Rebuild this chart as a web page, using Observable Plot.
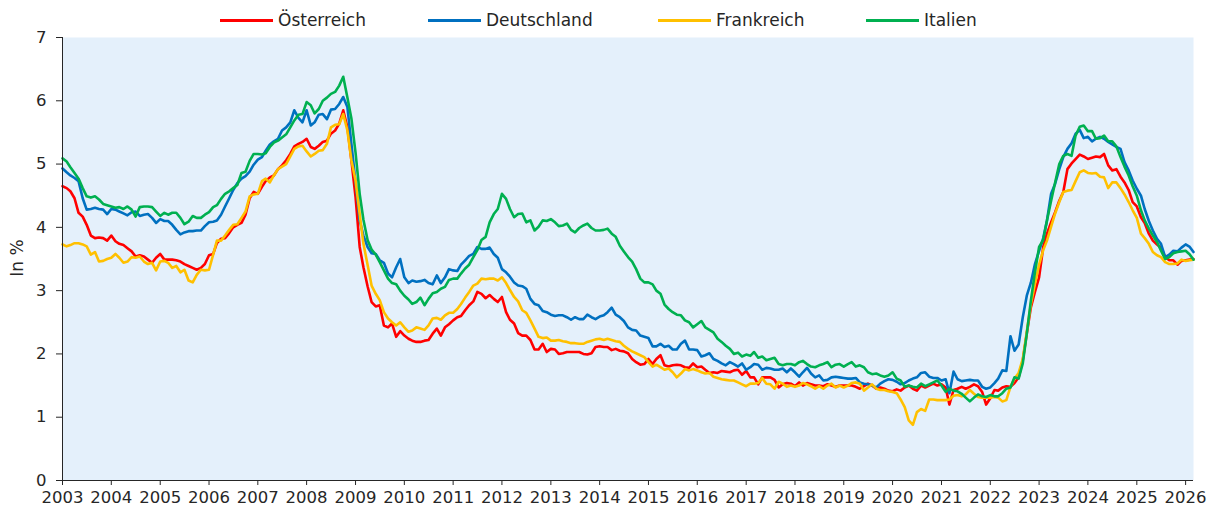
<!DOCTYPE html>
<html>
<head>
<meta charset="utf-8">
<script src="https://cdn.jsdelivr.net/npm/d3@7"></script>
<script src="https://cdn.jsdelivr.net/npm/@observablehq/plot@0.6"></script>
<style>
  html, body { margin: 0; padding: 0; background: #ffffff; }
  #wrap { position: relative; width: 1209px; height: 512px; font-family: "DejaVu Sans", sans-serif; color: #262626; }
  #legend { position: relative; height: 28px; width: 1209px; }
  .item { position: absolute; top: 9px; height: 22px; display: flex; align-items: center; font-size: 17px; white-space: nowrap; }
  .swatch { display: inline-block; width: 53px; height: 3px; margin-right: 5px; }
  #ylabel { position: absolute; left: 17px; top: 258px; transform: translate(-50%, -50%) rotate(-90deg); font-size: 17px; white-space: nowrap; }
  svg { display: block; }
</style>
</head>
<body>
<div id="wrap">
  <div id="legend"></div>
  <div id="chart"></div>
  <div id="ylabel">In %</div>
</div>
<script>
// Monthly values from Jan 2003 (index 0) to Mar 2026
const startYear = 2003;
const seriesNames = ["Österreich", "Deutschland", "Frankreich", "Italien"];
const seriesColors = ["#FF0000", "#0070C0", "#FFC000", "#00B050"];
const yTicks = [0, 1, 2, 3, 4, 5, 6, 7];
const yearTicks = d3.range(2003, 2027);

const oesterreich = [
4.65,4.62,4.57,4.46,4.23,4.17,4.04,3.87,3.83,3.84,3.83,3.79,3.87,3.78,3.74,3.72,3.67,3.62,3.54,3.56,3.54,3.49,3.44,3.52,
3.58,3.49,3.49,3.49,3.48,3.46,3.42,3.39,3.36,3.33,3.36,3.42,3.56,3.58,3.75,3.82,3.83,3.91,4.0,4.04,4.07,4.2,4.46,4.56,
4.53,4.64,4.73,4.79,4.82,4.92,4.98,5.06,5.16,5.28,5.32,5.35,5.4,5.27,5.24,5.29,5.35,5.37,5.48,5.53,5.64,5.85,5.58,5.06,
4.48,3.69,3.37,3.07,2.82,2.75,2.77,2.45,2.42,2.48,2.27,2.36,2.29,2.24,2.21,2.19,2.19,2.21,2.22,2.32,2.4,2.29,
2.42,2.47,2.53,2.58,2.6,2.69,2.77,2.83,2.98,2.95,2.88,2.93,2.87,2.82,2.9,2.66,2.54,2.48,2.33,2.29,2.29,2.22,2.07,2.07,
2.16,2.03,2.08,2.07,2.0,2.01,2.03,2.03,2.03,2.03,2.0,1.99,2.01,2.11,2.12,2.11,2.11,2.06,2.08,2.05,
2.04,2.01,1.92,1.87,1.83,1.84,1.92,1.84,1.92,1.98,1.82,1.8,1.82,1.83,1.82,1.79,1.78,1.85,1.79,1.8,1.75,1.7,1.71,1.7,
1.73,1.72,1.71,1.74,1.75,1.67,1.73,1.63,1.63,1.52,1.63,1.63,1.63,1.59,1.47,1.52,1.54,1.53,1.49,1.55,1.5,1.54,1.52,
1.5,1.5,1.49,1.52,1.5,1.48,1.5,1.5,1.5,1.5,1.48,1.45,1.49,1.53,1.5,1.45,1.47,1.45,1.42,1.41,1.44,1.42,1.47,1.5,
1.45,1.42,1.5,1.47,1.5,1.53,1.5,1.52,1.47,1.2,1.43,1.45,1.48,1.45,1.48,1.52,1.49,1.4,1.2,1.3,
1.43,1.42,1.47,1.49,1.48,1.54,1.63,1.9,2.32,2.74,2.98,3.21,3.69,3.9,4.08,4.24,4.42,4.56,4.92,5.01,5.08,5.15,5.12,5.08,
5.1,5.12,5.11,5.16,4.98,4.9,4.92,4.8,4.71,4.59,4.4,4.33,4.16,4.07,3.9,3.79,3.73,3.68,3.53,3.48,3.48,3.41,3.47,3.48,3.49,3.5
];

const deutschland = [
4.93,4.87,4.82,4.78,4.73,4.46,4.28,4.29,4.31,4.29,4.28,4.21,4.29,4.28,4.25,4.22,4.19,4.24,4.25,4.18,4.2,4.21,4.15,4.07,
4.13,4.1,4.1,4.04,3.96,3.89,3.92,3.94,3.94,3.95,3.95,4.02,4.08,4.09,4.11,4.2,4.33,4.46,4.59,4.7,4.77,4.81,4.88,4.99,
5.07,5.11,5.21,5.31,5.36,5.4,5.53,5.58,5.66,5.85,5.73,5.66,5.85,5.61,5.66,5.78,5.79,5.71,5.86,5.87,5.95,6.06,5.9,5.32,
4.71,4.11,3.87,3.69,3.59,3.58,3.48,3.44,3.27,3.21,3.37,3.5,3.21,3.12,3.16,3.14,3.15,3.17,3.12,3.1,3.24,3.12,
3.21,3.34,3.32,3.31,3.41,3.48,3.55,3.58,3.69,3.66,3.66,3.68,3.58,3.52,3.34,3.29,3.22,3.13,3.08,3.07,3.03,2.87,2.79,2.77,
2.68,2.66,2.62,2.6,2.61,2.61,2.58,2.54,2.58,2.55,2.55,2.62,2.58,2.55,2.59,2.61,2.66,2.73,2.62,2.58,
2.52,2.42,2.38,2.37,2.29,2.27,2.25,2.12,2.12,2.16,2.11,2.13,2.07,2.07,2.16,2.21,2.07,2.07,2.06,1.96,1.98,2.01,1.92,1.89,
1.85,1.82,1.87,1.84,1.8,1.85,1.75,1.79,1.84,1.83,1.75,1.78,1.77,1.75,1.75,1.77,1.71,1.77,1.71,1.64,1.71,1.78,1.69,
1.63,1.66,1.58,1.59,1.63,1.64,1.63,1.62,1.61,1.61,1.62,1.55,1.53,1.52,1.5,1.47,1.53,1.57,1.6,1.59,1.56,1.52,1.54,1.58,
1.61,1.63,1.7,1.71,1.64,1.62,1.62,1.58,1.6,1.38,1.72,1.6,1.57,1.58,1.59,1.58,1.58,1.48,1.45,1.47,
1.54,1.61,1.74,1.73,2.28,2.05,2.15,2.58,2.92,3.13,3.42,3.63,3.83,4.11,4.53,4.69,4.92,5.11,5.24,5.33,5.48,5.54,5.41,5.43,
5.36,5.4,5.43,5.4,5.35,5.31,5.27,5.24,5.03,4.9,4.74,4.61,4.5,4.29,4.1,3.95,3.82,3.74,3.53,3.57,3.63,3.62,3.68,3.73,3.69,3.61
];

const frankreich = [
3.73,3.7,3.72,3.75,3.75,3.73,3.7,3.57,3.61,3.46,3.47,3.5,3.52,3.58,3.52,3.44,3.46,3.53,3.52,3.54,3.46,3.42,3.44,3.32,
3.46,3.47,3.44,3.36,3.39,3.29,3.33,3.16,3.13,3.25,3.33,3.32,3.33,3.57,3.79,3.79,3.87,3.96,4.04,4.05,4.15,4.25,4.49,4.52,
4.53,4.73,4.77,4.71,4.82,4.92,4.96,5.0,5.12,5.24,5.28,5.29,5.2,5.12,5.16,5.21,5.22,5.32,5.58,5.62,5.63,5.79,5.53,5.06,
4.74,4.21,3.74,3.41,3.08,2.95,2.85,2.66,2.56,2.5,2.45,2.5,2.42,2.35,2.37,2.42,2.4,2.38,2.45,2.56,2.57,2.54,
2.61,2.65,2.65,2.71,2.79,2.89,2.98,3.08,3.11,3.19,3.18,3.19,3.19,3.16,3.21,3.12,3.01,2.9,2.83,2.69,2.65,2.53,2.4,2.27,
2.25,2.26,2.21,2.21,2.22,2.2,2.19,2.17,2.17,2.16,2.16,2.19,2.21,2.23,2.24,2.22,2.24,2.22,2.2,2.19,
2.13,2.08,2.04,2.01,1.98,1.95,1.87,1.8,1.83,1.79,1.75,1.77,1.71,1.63,1.69,1.76,1.74,1.76,1.74,1.71,1.69,1.7,1.64,1.62,
1.6,1.59,1.58,1.58,1.55,1.52,1.49,1.53,1.53,1.54,1.62,1.53,1.52,1.45,1.56,1.53,1.48,1.5,1.48,1.5,1.54,1.52,1.49,
1.45,1.49,1.45,1.5,1.53,1.47,1.5,1.47,1.5,1.54,1.55,1.53,1.42,1.47,1.52,1.45,1.43,1.43,1.41,1.4,1.38,1.28,1.16,0.95,
0.88,1.08,1.13,1.1,1.28,1.28,1.27,1.27,1.27,1.28,1.34,1.35,1.33,1.36,1.43,1.37,1.32,1.31,1.31,1.31,
1.32,1.31,1.25,1.27,1.48,1.61,1.7,1.92,2.35,2.79,3.11,3.41,3.64,3.79,4.01,4.22,4.4,4.56,4.58,4.59,4.73,4.87,4.9,4.86,
4.85,4.86,4.8,4.79,4.62,4.71,4.71,4.62,4.52,4.4,4.27,4.15,3.9,3.83,3.74,3.61,3.56,3.53,3.45,3.42,3.42,3.43,3.49,3.47,3.48,3.49
];

const italien = [
5.09,5.04,4.95,4.86,4.77,4.62,4.49,4.47,4.49,4.44,4.37,4.35,4.33,4.31,4.32,4.29,4.33,4.28,4.17,4.32,4.33,4.33,4.32,4.25,
4.18,4.23,4.2,4.23,4.23,4.15,4.05,4.09,4.18,4.15,4.15,4.2,4.24,4.32,4.35,4.45,4.53,4.57,4.62,4.67,4.86,4.88,5.05,5.16,
5.16,5.15,5.17,5.27,5.34,5.37,5.42,5.47,5.58,5.69,5.78,5.79,5.98,5.93,5.8,5.87,6.0,6.05,6.11,6.14,6.24,6.38,6.05,5.72,
5.18,4.53,4.12,3.8,3.65,3.57,3.45,3.32,3.19,3.12,3.1,3.0,2.92,2.86,2.79,2.82,2.89,2.77,2.87,2.96,2.98,3.03,
3.06,3.17,3.19,3.19,3.27,3.35,3.41,3.53,3.64,3.8,3.85,4.08,4.21,4.29,4.53,4.45,4.29,4.16,4.21,4.22,4.08,4.11,3.95,4.01,
4.11,4.1,4.13,4.08,4.02,4.03,4.06,3.96,3.92,3.99,4.03,4.06,3.99,3.95,3.95,3.96,3.98,3.9,3.85,3.71,
3.62,3.53,3.46,3.34,3.19,3.13,3.13,3.1,3.0,2.95,2.78,2.71,2.66,2.62,2.61,2.53,2.5,2.42,2.47,2.52,2.42,2.38,2.34,2.24,
2.19,2.13,2.08,2.0,2.02,1.96,1.99,1.97,2.03,1.94,1.96,1.9,1.92,1.94,1.84,1.82,1.84,1.84,1.82,1.87,1.89,1.84,1.8,
1.79,1.82,1.84,1.87,1.79,1.83,1.84,1.8,1.84,1.87,1.8,1.82,1.79,1.71,1.68,1.69,1.66,1.64,1.66,1.71,1.61,1.58,1.48,1.5,
1.48,1.47,1.53,1.49,1.52,1.55,1.58,1.5,1.4,1.45,1.42,1.41,1.37,1.31,1.25,1.31,1.36,1.33,1.32,1.35,
1.33,1.33,1.38,1.45,1.47,1.63,1.61,1.85,2.32,2.85,3.29,3.69,3.8,4.11,4.42,4.71,5.0,5.13,5.16,5.13,5.45,5.59,5.61,5.52,
5.52,5.4,5.41,5.45,5.36,5.36,5.28,5.11,4.96,4.82,4.65,4.5,4.27,4.11,3.98,3.87,3.77,3.63,3.5,3.53,3.59,3.61,3.62,3.63,3.57,3.49
];

const seriesValues = [oesterreich, deutschland, frankreich, italien];

const dates = oesterreich.map((_, i) => new Date(Date.UTC(startYear, i, 1)));
const rows = seriesNames.flatMap((name, s) =>
  seriesValues[s].map((v, i) => ({date: dates[i], value: v, name}))
);

// Legend
const legendPos = [220, 428, 658, 866];
const legend = document.getElementById("legend");
seriesNames.forEach((name, i) => {
  const it = document.createElement("div");
  it.className = "item";
  it.style.left = legendPos[i] + "px";
  const sw = document.createElement("span");
  sw.className = "swatch";
  sw.style.background = seriesColors[i];
  const tx = document.createElement("span");
  tx.textContent = name;
  it.appendChild(sw);
  it.appendChild(tx);
  legend.appendChild(it);
});

const chart = Plot.plot({
  width: 1209,
  height: 484,
  marginTop: 9,
  marginBottom: 32,
  marginLeft: 62,
  marginRight: 16,
  style: {fontFamily: "'DejaVu Sans', sans-serif", fontSize: "16.5px", color: "#262626", background: "transparent", overflow: "visible"},
  x: {
    type: "utc",
    domain: [dates[0], dates[dates.length - 1]],
    ticks: yearTicks.map(y => new Date(Date.UTC(y, 0, 1))),
    tickFormat: d => String(d.getUTCFullYear()),
    tickSize: 5,
    tickPadding: 6,
    label: null
  },
  y: {
    domain: [0, 7],
    ticks: yTicks,
    tickFormat: d => String(d),
    tickSize: 6,
    tickPadding: 10,
    label: null
  },
  color: {domain: seriesNames, range: seriesColors},
  marks: [
    Plot.frame({fill: "#E4F0FB", stroke: null}),
    Plot.line(rows, {x: "date", y: "value", z: "name", stroke: "name", strokeWidth: 2.6, strokeLinejoin: "round"}),
    Plot.ruleY([0], {stroke: "#262626", strokeWidth: 1}),
    Plot.ruleX([dates[0]], {stroke: "#262626", strokeWidth: 1})
  ]
});
document.getElementById("chart").appendChild(chart);
</script>
</body>
</html>
